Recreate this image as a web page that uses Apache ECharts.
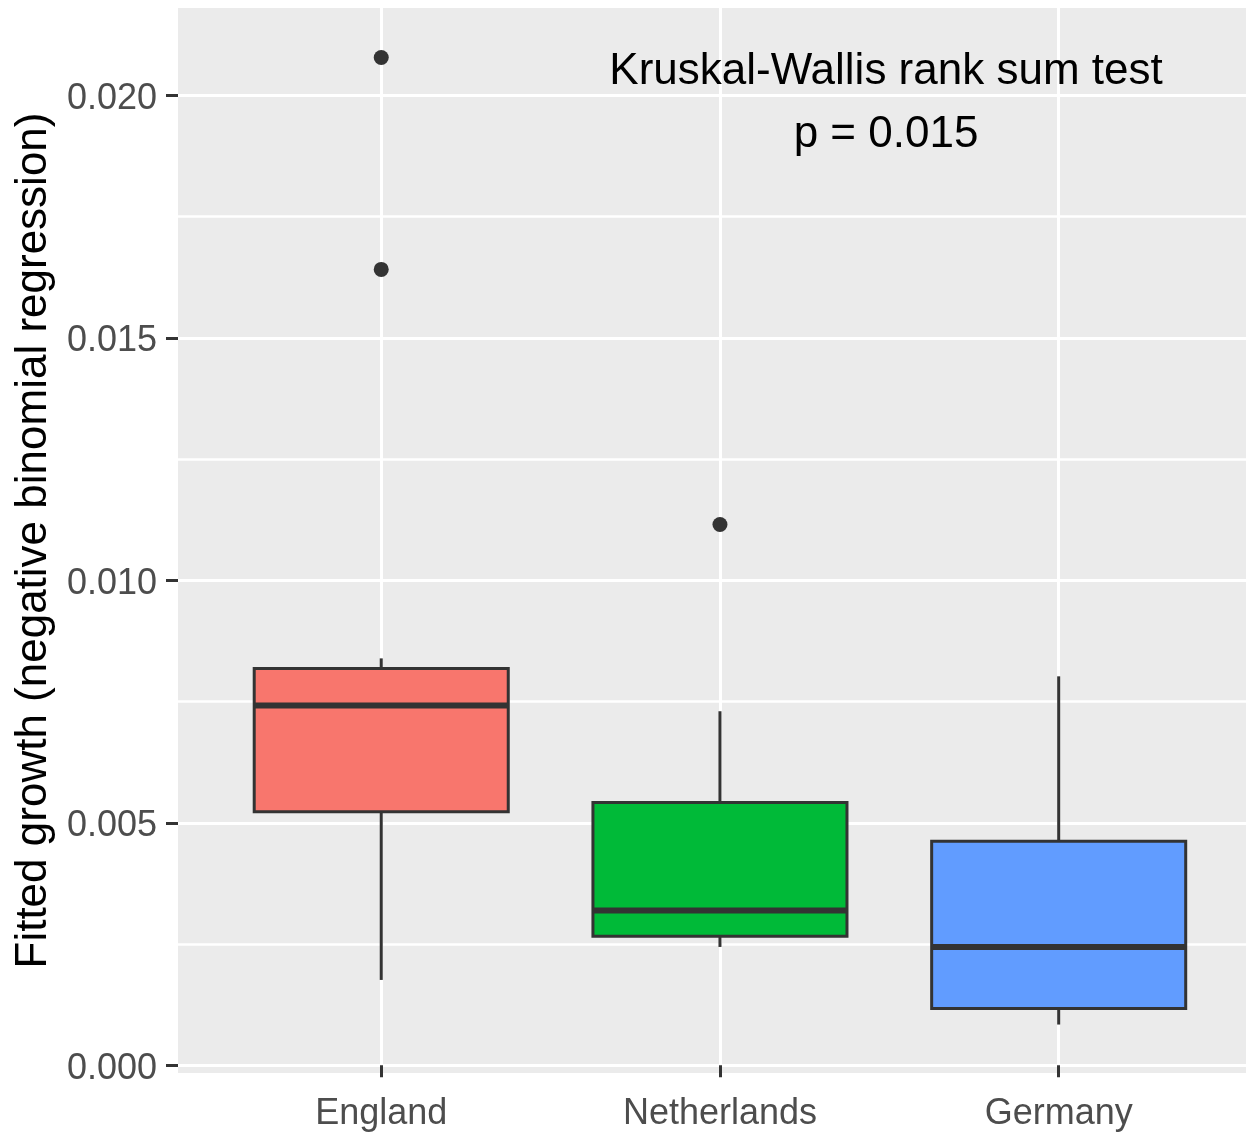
<!DOCTYPE html>
<html><head><meta charset="utf-8">
<script src="https://cdn.jsdelivr.net/npm/echarts@6/dist/echarts.min.js"></script>
<style>html,body{margin:0;padding:0;background:#fff}#c{width:1246px;height:1132px}</style>
</head><body><div id="c"></div>
<script>
const categories = ['England', 'Netherlands', 'Germany'];
const fillColors = ['#F8766D', '#00BA38', '#619CFF'];
// [lower whisker, Q1, median, Q3, upper whisker]
const englandStats = [0.00176, 0.00523, 0.00742, 0.00818, 0.00839];
const netherlandsStats = [0.00244, 0.00266, 0.00319, 0.00542, 0.00730];
const germanyStats = [0.00084, 0.00117, 0.00244, 0.00462, 0.00802];
const outlierCategories = ['England', 'England', 'Netherlands'];
const outlierValues = [0.02078, 0.01641, 0.01115];
const yTicks = [0, 0.005, 0.010, 0.015, 0.020];
const yTickLabels = ['0.000', '0.005', '0.010', '0.015', '0.020'];
const yMinorTicks = [0.0025, 0.0075, 0.0125, 0.0175];
const yTitle = 'Fitted growth (negative binomial regression)';
const annotationLines = ['Kruskal-Wallis rank sum test', 'p = 0.015'];

const FONT = '"Liberation Sans", Arial, sans-serif';
const boxStats = [englandStats, netherlandsStats, germanyStats];
const catPos = categories.map((c, i) => i + 1);
const yMin = -0.000159, yMax = 0.0218;

const chart = echarts.init(document.getElementById('c'), null, {renderer: 'canvas'});
chart.setOption({
  animation: false,
  backgroundColor: '#ffffff',
  grid: {left: 178, right: 0, top: 8, bottom: 58, show: true, backgroundColor: '#EBEBEB', borderWidth: 0},
  xAxis: {
    type: 'value', min: 0.4, max: 3.553,
    axisLine: {show: false},
    axisTick: {show: true, customValues: catPos, length: 12, lineStyle: {color: '#333333', width: 3}},
    axisLabel: {customValues: catPos, formatter: v => categories[Math.round(v) - 1] || '', color: '#4D4D4D', fontSize: 36, fontFamily: FONT, margin: 23},
    splitLine: {show: true, lineStyle: {color: '#FFFFFF', width: 3}}
  },
  yAxis: [{
    type: 'value', min: yMin, max: yMax,
    axisLine: {show: false},
    axisTick: {show: true, customValues: yTicks, length: 12, lineStyle: {color: '#333333', width: 3}},
    axisLabel: {
      customValues: yTicks,
      formatter: v => { const i = yTicks.findIndex(t => Math.abs(t - v) < 1e-9); return i >= 0 ? '{t|' + yTickLabels[i] + '}' : ''; },
      margin: 21,
      rich: {t: {color: '#4D4D4D', fontSize: 36, fontFamily: FONT, padding: [7, 0, 0, 0]}}
    },
    splitLine: {show: true, lineStyle: {color: '#FFFFFF', width: 3}},
    name: yTitle, nameLocation: 'middle', nameRotate: 90, nameGap: 114,
    nameTextStyle: {color: '#000000', fontSize: 44, fontFamily: FONT}
  }, {
    type: 'value', min: yMin, max: yMax, position: 'left',
    axisLine: {show: false},
    axisTick: {show: false, customValues: yMinorTicks},
    axisLabel: {show: false, customValues: yMinorTicks},
    splitLine: {show: true, lineStyle: {color: '#FFFFFF', width: 2.5}}
  }],
  graphic: [
    {type: 'text', x: 886, y: 72, z: 100, style: {text: annotationLines[0], font: '44px ' + FONT, fill: '#000', textAlign: 'center', textVerticalAlign: 'middle'}},
    {type: 'text', x: 886, y: 135, z: 100, style: {text: annotationLines[1], font: '44px ' + FONT, fill: '#000', textAlign: 'center', textVerticalAlign: 'middle'}}
  ],
  series: [{
    type: 'custom',
    yAxisIndex: 0,
    data: boxStats.map((s, i) => [catPos[i]].concat(s)),
    encode: {x: 0, y: [1, 2, 3, 4, 5]},
    z: 3,
    renderItem: function (params, api) {
      const x = api.value(0);
      const idx = params.dataIndex;
      const halfW = api.size([0.75, 0])[0] / 2;
      const pMin = api.coord([x, api.value(1)]);
      const pQ1 = api.coord([x, api.value(2)]);
      const pMed = api.coord([x, api.value(3)]);
      const pQ3 = api.coord([x, api.value(4)]);
      const pMax = api.coord([x, api.value(5)]);
      const stroke = '#333333';
      return {type: 'group', children: [
        {type: 'line', shape: {x1: pMin[0], y1: pMin[1], x2: pQ1[0], y2: pQ1[1]}, style: {stroke: stroke, lineWidth: 3}},
        {type: 'line', shape: {x1: pQ3[0], y1: pQ3[1], x2: pMax[0], y2: pMax[1]}, style: {stroke: stroke, lineWidth: 3}},
        {type: 'rect', shape: {x: pQ1[0] - halfW, y: pQ3[1], width: 2 * halfW, height: pQ1[1] - pQ3[1]}, style: {fill: fillColors[idx], stroke: stroke, lineWidth: 3}},
        {type: 'line', shape: {x1: pMed[0] - halfW, y1: pMed[1], x2: pMed[0] + halfW, y2: pMed[1]}, style: {stroke: stroke, lineWidth: 6}}
      ]};
    }
  }, {
    type: 'scatter',
    yAxisIndex: 0,
    z: 4,
    symbol: 'circle',
    symbolSize: 15,
    itemStyle: {color: '#333333', opacity: 1},
    data: outlierValues.map((v, i) => [categories.indexOf(outlierCategories[i]) + 1, v])
  }]
});
</script></body></html>
